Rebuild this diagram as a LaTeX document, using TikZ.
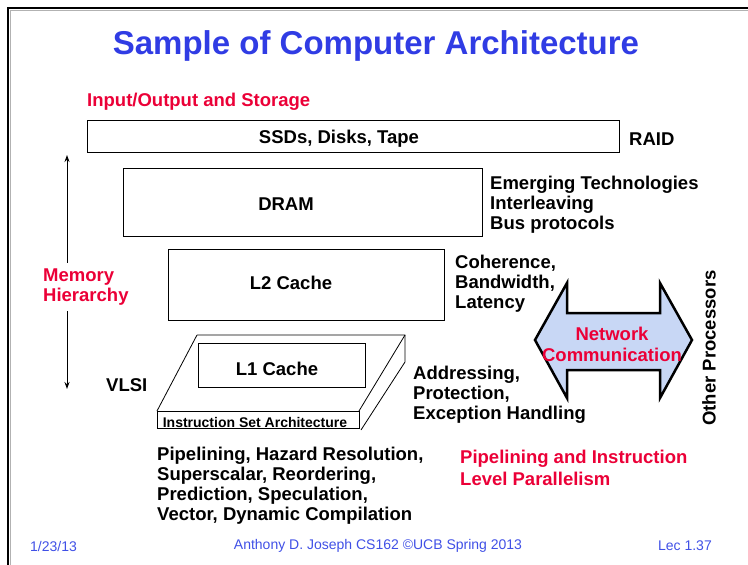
\documentclass[tikz,border=0pt]{standalone}
\usepackage{fontspec}
\setmainfont{Liberation Sans}
\usepackage{tikz}
\usetikzlibrary{arrows.meta}
\usepackage{xcolor}
\definecolor{titleblue}{RGB}{48,60,228}
\definecolor{footblue}{RGB}{64,80,230}
\definecolor{hotred}{RGB}{235,0,55}
\definecolor{netfill}{RGB}{200,215,245}
\newcommand{\bodyfont}{\fontsize{18.5}{20}\selectfont\bfseries}

\begin{document}
\begin{tikzpicture}[x=1pt, y=-1pt,
  box/.style={draw, rectangle, line width=0.8pt, inner sep=0pt},
  txt/.style={font=\bodyfont, inner sep=0pt},
  note/.style={txt, align=left, anchor=west},
  hot/.style={note, text=hotred},
  foot/.style={font=\fontsize{14}{16}\selectfont, text=footblue, inner sep=0pt}]
\useasboundingbox (0,0) rectangle (748,565);
% slide frame
\draw[gray!60, line width=1pt] (10.5,565) -- (10.5,10.5) -- (748,10.5);
\draw[line width=2.4pt] (8,565) -- (8,8) -- (748,8);

% Title
\node[font=\fontsize{33}{36}\selectfont\bfseries, text=titleblue] (title) at (376,46) {Sample of Computer Architecture};

% Storage
\node[hot] (io) at (87,102) {Input/Output and Storage};
\node[box, minimum width=532, minimum height=32] (ssd) at (353,136) {};
\node[txt] (ssdtxt) at (339,139) {SSDs, Disks, Tape};
\node[note] (raid) at (629,139) {RAID};

% DRAM
\node[box, minimum width=359, minimum height=68] (dram) at (302.5,202) {};
\node[txt] (dramtxt) at (286,204) {DRAM};
\node[note] (emerging) at (490,205) {Emerging Technologies\\Interleaving\\Bus protocols};

% L2
\node[box, minimum width=276, minimum height=71] (ltwo) at (306,284.5) {};
\node[txt] (ltwotxt) at (291,283) {L2 Cache};
\node[note] (coherence) at (455,284) {Coherence,\\Bandwidth,\\Latency};

% Memory hierarchy arrow
\coordinate (memtop) at (67,155);
\coordinate (membot) at (67,389);
\node[hot] (mem) at (43,287) {Memory\\Hierarchy};
\draw[-{Stealth[length=7pt,width=5pt]}, line width=0.9pt] (mem.north -| memtop) ++(0,-6) -- (memtop);
\draw[-{Stealth[length=7pt,width=5pt]}, line width=0.9pt] (mem.south -| membot) ++(0,6) -- (membot);
\node[note] (vlsi) at (106,385) {VLSI};

% L1 slab and ISA
\draw[line width=0.8pt] (197,335) -- (405,335) -- (405,362) -- (361,430);
\draw[line width=0.8pt] (197,335) -- (157,411);
\draw[line width=0.8pt] (405,335) -- (359,411);
\node[box, minimum width=202, minimum height=17, fill=white] (isa) at (258,419.5) {};
\node[font=\fontsize{14}{16}\selectfont\bfseries, inner sep=0pt] (isatxt) at (255,422) {Instruction Set Architecture};
\node[box, minimum width=167, minimum height=44] (lone) at (281.5,365) {};
\node[txt] (lonetxt) at (277,369) {L1 Cache};
\node[note] (addr) at (413,395) {Addressing,\\Protection,\\Exception Handling};

% Pipelining
\node[note] (pipe) at (157,486) {Pipelining, Hazard Resolution,\\Superscalar, Reordering,\\Prediction, Speculation,\\Vector, Dynamic Compilation};
\node[hot, font=\fontsize{18.5}{22}\selectfont\bfseries] (ilp) at (460,468) {Pipelining and Instruction\\Level Parallelism};

% Network
\draw[line width=2.5pt, fill=netfill, line join=miter] (535,340) -- (567,283) -- (567,313) -- (660,313) -- (660,283) -- (692,340)
  -- (660,398) -- (660,370) -- (567,370) -- (567,398) -- cycle;
\node[txt, text=hotred, align=center, font=\fontsize{18.5}{21}\selectfont\bfseries] (net) at (612,344) {Network\\Communication};
\node[txt, rotate=90] (other) at (709,348) {Other Processors};

% Footer
\node[foot, anchor=west] (date) at (30,546) {1/23/13};
\node[foot] (author) at (378,546) {Anthony D. Joseph CS162 ©UCB Spring 2013};
\node[foot, anchor=east] (lec) at (712,546) {Lec 1.37};
\end{tikzpicture}
\end{document}
